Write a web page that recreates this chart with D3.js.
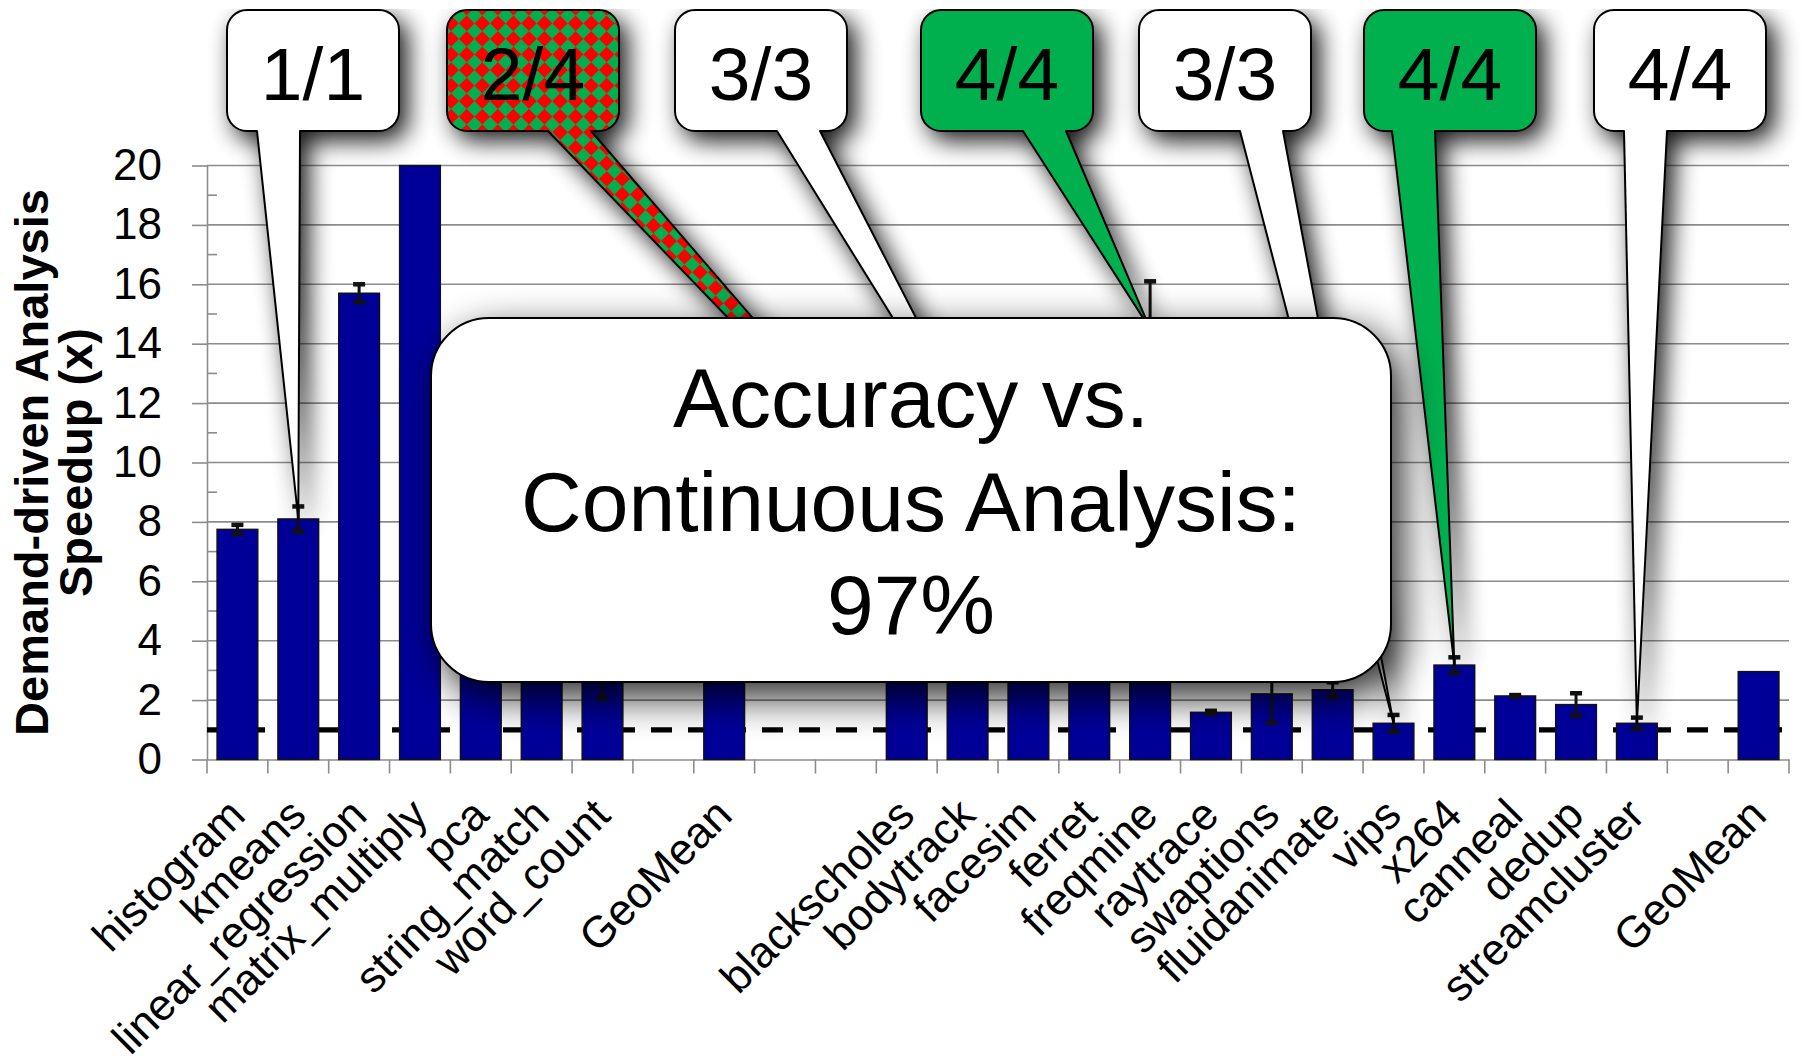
<!DOCTYPE html>
<html><head><meta charset="utf-8">
<script src="https://cdn.jsdelivr.net/npm/d3@7"></script>
<style>
html,body{margin:0;padding:0;background:#fff;}
svg{display:block;}
text{font-family:"Liberation Sans",Arial,Helvetica,sans-serif;fill:#000;}
</style>
</head><body>
<svg id="chart" width="1802" height="1063"></svg>
<script>
// ---------------- data ----------------
const categories = ["histogram","kmeans","linear_regression","matrix_multiply","pca","string_match","word_count","","GeoMean","","","blackscholes","bodytrack","facesim","ferret","freqmine","raytrace","swaptions","fluidanimate","vips","x264","canneal","dedup","streamcluster","","GeoMean"];
const speedup    = [7.75,8.1,15.7,20,3.8,3.3,3.0,null,6.9,null,null,3.4,6.5,7.5,3.6,14.5,1.59,2.21,2.35,1.22,3.18,2.14,1.85,1.22,null,2.96];
const speedupErr = [0.15,0.42,0.3,null,0.3,0.3,0.95,null,null,null,null,0.3,0.4,0.4,0.3,1.6,0.05,0.97,0.25,0.28,0.26,0.03,0.38,0.19,null,null];
const yTicks = [0,2,4,6,8,10,12,14,16,18,20];
const yMinorTicks = [1,3,5,7,9,11,13,15,17,19];
const referenceSpeedup = 1;
const yTitleLines = ["Demand-driven Analysis","Speedup (x)"];
const calloutLabels  = ["1/1","2/4","3/3","4/4","3/3","4/4","4/4"];
const calloutTargets = ["kmeans","bodytrack","facesim","freqmine","vips","x264","streamcluster"];
const calloutKinds   = ["plain","mixed","plain","full","plain","full","plain"];
const accuracyLines  = ["Accuracy vs.","Continuous Analysis:","97%"];

// ---------------- layout ----------------
const W = 1802, H = 1063;
const plot = {left:207, right:1789, top:165.5, bottom:759.5};
const calloutLeft = [227, 447, 675, 921, 1139, 1364, 1594];
const calloutTailOffset = [30, 101, 102, 102, 101, 28, 30];
const calloutBox = {top:10, w:172, h:121, r:20, tailW:43};
const bigBox = {x:431, y:318, w:960, h:364, r:58};

const svg = d3.select("#chart");
const defs = svg.append("defs");

// shadows
function shadow(id, std, dx, dy, op){
  const f = defs.append("filter").attr("id", id)
    .attr("filterUnits","userSpaceOnUse").attr("x",0).attr("y",0).attr("width",W).attr("height",H);
  f.append("feGaussianBlur").attr("in","SourceAlpha").attr("stdDeviation",std).attr("result","b");
  f.append("feOffset").attr("in","b").attr("dx",dx).attr("dy",dy).attr("result","o");
  const ct = f.append("feComponentTransfer").attr("in","o").attr("result","s");
  ct.append("feFuncA").attr("type","linear").attr("slope",op);
  const m = f.append("feMerge");
  m.append("feMergeNode").attr("in","s");
  m.append("feMergeNode").attr("in","SourceGraphic");
}
shadow("shSmall", 12, 8, 9, 0.9);
shadow("shBig", 20, 10, 14, 0.85);

// checker pattern (red/green diamonds)
const s = 11;
const pat = defs.append("pattern").attr("id","checker").attr("patternUnits","userSpaceOnUse")
  .attr("width",2*s).attr("height",2*s).attr("patternTransform","rotate(45)");
pat.append("rect").attr("width",2*s).attr("height",2*s).attr("fill","#00b050");
pat.append("rect").attr("width",s).attr("height",s).attr("fill","#ff0000");
pat.append("rect").attr("x",s).attr("y",s).attr("width",s).attr("height",s).attr("fill","#ff0000");

// ---------------- scales ----------------
const idx = d3.range(categories.length);
const x = d3.scaleBand().domain(idx).range([plot.left, plot.right]).paddingInner(0.33).paddingOuter(0.165);
const y = d3.scaleLinear().domain([0,20]).range([plot.bottom, plot.top]);
const gridColor = "#8c8c8c";

// gridlines
svg.append("g").selectAll("line").data(yTicks.filter(v=>v>0)).join("line")
  .attr("x1", plot.left).attr("x2", plot.right)
  .attr("y1", d=>y(d)).attr("y2", d=>y(d))
  .attr("stroke", gridColor).attr("stroke-width", 1.6);

// y axis
const yAxis = svg.append("g").attr("transform",`translate(${plot.left},0)`)
  .call(d3.axisLeft(y).tickValues(yTicks).tickSize(15).tickPadding(30).tickSizeOuter(0));
yAxis.select(".domain").attr("stroke", gridColor).attr("stroke-width",1.6);
yAxis.selectAll(".tick line").attr("stroke", gridColor).attr("stroke-width",1.6);
yAxis.selectAll(".tick text").attr("font-size",44).attr("font-family",'"Liberation Sans",Arial,sans-serif').attr("fill","#000");
svg.append("g").selectAll("line").data(yMinorTicks).join("line")
  .attr("x1", plot.left).attr("x2", plot.left+10)
  .attr("y1", d=>y(d)).attr("y2", d=>y(d))
  .attr("stroke", gridColor).attr("stroke-width",1.6);

// x axis
const xAxis = svg.append("g").attr("transform",`translate(0,${plot.bottom})`)
  .call(d3.axisBottom(x).tickSize(0).tickFormat(i=>categories[i]));
xAxis.select(".domain").attr("stroke", gridColor).attr("stroke-width",1.6);
xAxis.selectAll(".tick text")
  .attr("font-size",44).attr("font-family",'"Liberation Sans",Arial,sans-serif').attr("fill","#000")
  .attr("x",0).attr("y",0).attr("dy",null)
  .attr("text-anchor","end")
  .attr("transform","translate(10,58) rotate(-45)");
svg.append("g").selectAll("line").data(d3.range(categories.length+1)).join("line")
  .attr("x1", d=>plot.left + d*x.step()).attr("x2", d=>plot.left + d*x.step())
  .attr("y1", plot.bottom).attr("y2", plot.bottom+14)
  .attr("stroke", gridColor).attr("stroke-width",1.6);

// reference dashed line at 1x
svg.append("line")
  .attr("x1", plot.left).attr("x2", plot.right)
  .attr("y1", y(referenceSpeedup)).attr("y2", y(referenceSpeedup))
  .attr("stroke","#000").attr("stroke-width",5.3).attr("stroke-dasharray","21,16");

// bars
const barData = idx.filter(i => speedup[i] != null);
svg.append("g").selectAll("rect").data(barData).join("rect")
  .attr("x", i=>x(i)).attr("width", x.bandwidth())
  .attr("y", i=>y(Math.min(20, speedup[i])))
  .attr("height", i=>y(0)-y(Math.min(20, speedup[i])))
  .attr("fill","#000099").attr("stroke","#111").attr("stroke-width",1.4);

// error bars
const errData = idx.filter(i => speedup[i] != null && speedupErr[i] != null);
const eg = svg.append("g").attr("stroke","#111");
errData.forEach(i=>{
  const cx = x(i) + x.bandwidth()/2;
  const lo = y(speedup[i]-speedupErr[i]), hi = y(speedup[i]+speedupErr[i]);
  eg.append("line").attr("x1",cx).attr("x2",cx).attr("y1",lo).attr("y2",hi).attr("stroke-width",3);
  [lo,hi].forEach(yy=>eg.append("line").attr("x1",cx-6).attr("x2",cx+6).attr("y1",yy).attr("y2",yy).attr("stroke-width",4.5));
});

// ---------------- callouts ----------------
function calloutPath(bx, by, w, h, r, b1, b2, tx, ty){
  return `M${bx+r},${by} H${bx+w-r} A${r},${r} 0 0 1 ${bx+w},${by+r} V${by+h-r} A${r},${r} 0 0 1 ${bx+w-r},${by+h}` +
         ` H${b2} L${tx},${ty} L${b1},${by+h} H${bx+r} A${r},${r} 0 0 1 ${bx},${by+h-r} V${by+r} A${r},${r} 0 0 1 ${bx+r},${by} Z`;
}
const cg = svg.append("g");
calloutLabels.forEach((lab, k)=>{
  const ti = categories.indexOf(calloutTargets[k]);
  const tx = x(ti) + x.bandwidth()/2;
  const ty = y(speedup[ti]);
  const bx = calloutLeft[k], by = calloutBox.top;
  const b1 = bx + calloutTailOffset[k], b2 = b1 + calloutBox.tailW;
  const fill = calloutKinds[k]==="plain" ? "#ffffff" : calloutKinds[k]==="full" ? "#00b050" : "url(#checker)";
  const g = cg.append("g");
  g.append("path").attr("d", calloutPath(bx, by, calloutBox.w, calloutBox.h, calloutBox.r, b1, b2, tx, ty))
    .attr("fill", fill).attr("stroke","#000").attr("stroke-width",2).attr("stroke-linejoin","round")
    .attr("filter","url(#shSmall)");
  g.append("text").attr("x", bx + calloutBox.w/2).attr("y", 100)
    .attr("text-anchor","middle").attr("font-size",75).text(lab);
});

// big accuracy box
svg.append("rect").attr("x",bigBox.x).attr("y",bigBox.y).attr("width",bigBox.w).attr("height",bigBox.h)
  .attr("rx",bigBox.r).attr("ry",bigBox.r)
  .attr("fill","#fff").attr("stroke","#000").attr("stroke-width",2).attr("filter","url(#shBig)");
svg.append("g").selectAll("text").data(accuracyLines).join("text")
  .attr("x", bigBox.x + bigBox.w/2).attr("y",(d,i)=>427 + i*103.5)
  .attr("text-anchor","middle").attr("font-size",84).text(d=>d);

// y-axis title
const yt = svg.append("g");
yTitleLines.forEach((t,i)=>{
  yt.append("text").attr("transform",`translate(${48 + i*44},${(plot.top+plot.bottom)/2}) rotate(-90)`)
    .attr("text-anchor","middle").attr("font-size",47).attr("font-weight","bold").text(t);
});
</script>
</body></html>
